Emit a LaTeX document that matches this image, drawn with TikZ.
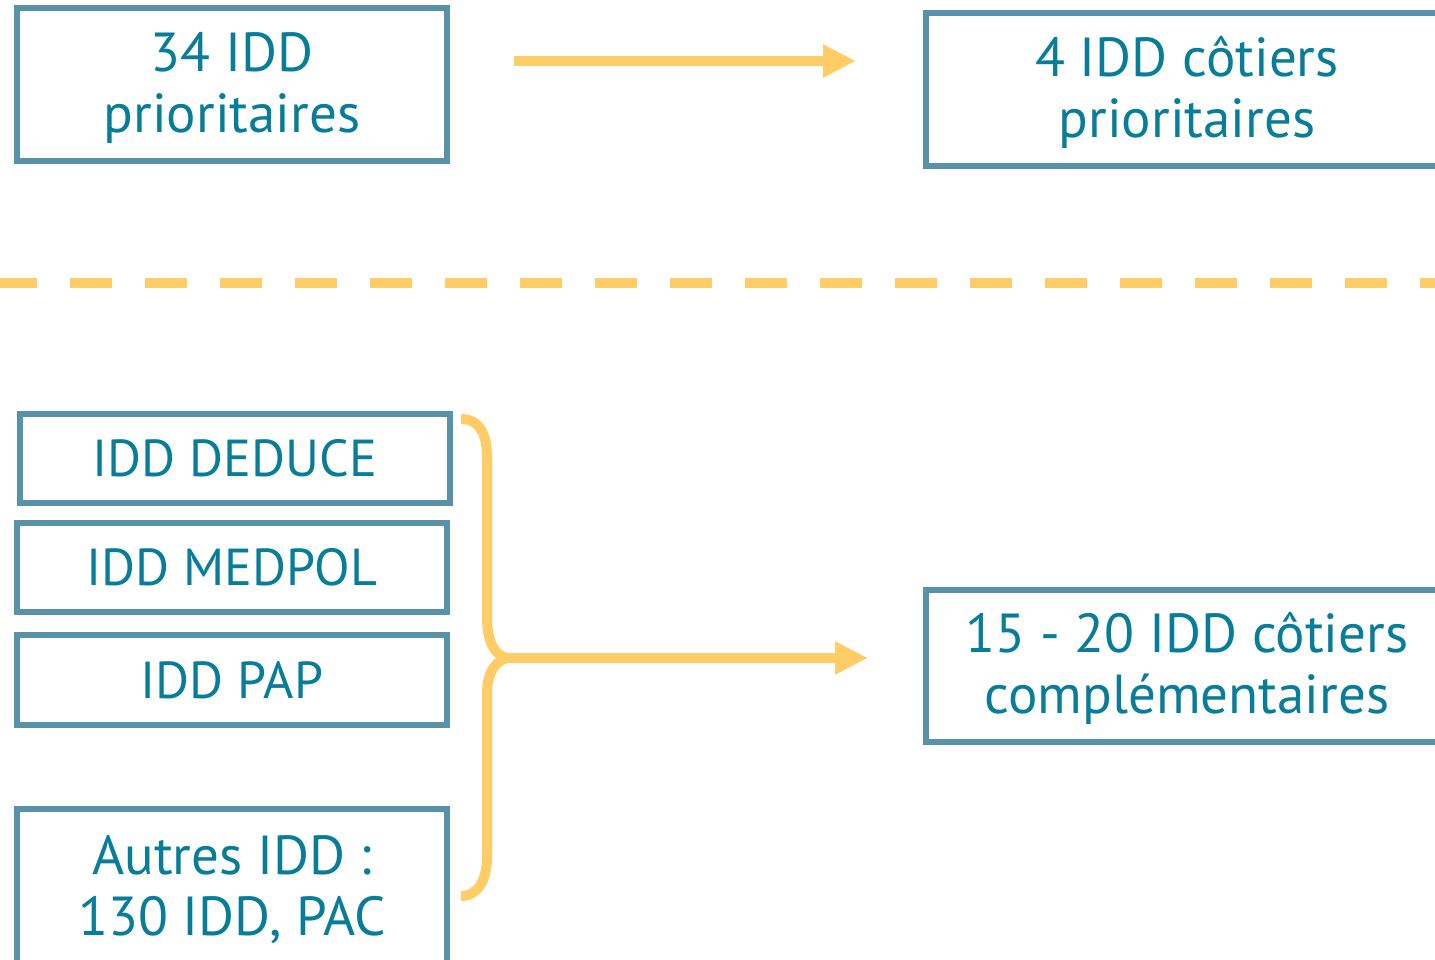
\documentclass[tikz,border=0pt]{standalone}
\usepackage{fontspec}
\setmainfont{PT Sans}
\usetikzlibrary{arrows.meta}
\definecolor{txt}{HTML}{077D99}
\definecolor{brd}{HTML}{5892AA}
\definecolor{ylw}{HTML}{FFCC66}
\newcommand{\twolines}[2]{\raisebox{-5pt}[\height][\depth]{\begin{tabular}{@{}c@{}}#1\\#2\end{tabular}}}
\tikzset{
  box/.style={draw=brd, line width=6pt, text=txt, align=center, inner sep=0pt,
    font=\fontsize{55}{61}\selectfont},
  capbox/.style={box, font=\fontsize{52}{60}\selectfont},
  yline/.style={draw=ylw, line width=10pt},
  yarrow/.style={yline, -{Triangle[length=33pt,width=31pt]}}
}
\begin{document}
\begin{tikzpicture}[x=1pt,y=-1pt]
\useasboundingbox (0,0) rectangle (1435,959);
\begin{scope}
\clip (0,0) rectangle (1435,959);
\node[box, minimum width=430pt, minimum height=153pt] (b1) at (232,84.5) {\twolines{34 IDD}{prioritaires}};
\node[box, minimum width=523pt, minimum height=153pt] (b2) at (1187,89.5) {\twolines{4 IDD côtiers}{prioritaires}};
\node[capbox, minimum width=429.5pt, minimum height=89.5pt] (deduce) at (234.75,458.25) {IDD DEDUCE};
\node[capbox, minimum width=430pt, minimum height=89pt] (medpol) at (232,567.5) {IDD MEDPOL};
\node[capbox, minimum width=430pt, minimum height=89.5pt] (pap) at (232,679.75) {IDD PAP};
\node[box, minimum width=430pt, minimum height=157pt] (autres) at (232,887.5) {\twolines{Autres IDD :}{130 IDD, PAC}};
\node[box, minimum width=523pt, minimum height=152pt] (c) at (1187,666) {\twolines{15 - 20 IDD côtiers}{complémentaires}};

\coordinate (a1s) at (514,61);
\coordinate (a1e) at (856,61);
\draw[yarrow] (a1s) -- (a1e);

\coordinate (dl) at (-5,283);
\coordinate (dr) at (1440,283);
\draw[yline, dash pattern=on 42pt off 33pt] (dl) -- (dr);

\coordinate (btop) at (461,419);
\coordinate (btip) at (510,658);
\coordinate (bbot) at (461,896);
\draw[yline] (btop) .. controls (480,419) and (487,435) .. (487,457) -- (487,617)
  .. controls (487,645) and (497,658) .. (btip)
  .. controls (497,658) and (487,672) .. (487,693) -- (487,857)
  .. controls (487,880) and (478,896) .. (bbot);
\coordinate (a2e) at (868,658);
\draw[yarrow] (btip) -- (a2e);
\end{scope}
\end{tikzpicture}
\end{document}
